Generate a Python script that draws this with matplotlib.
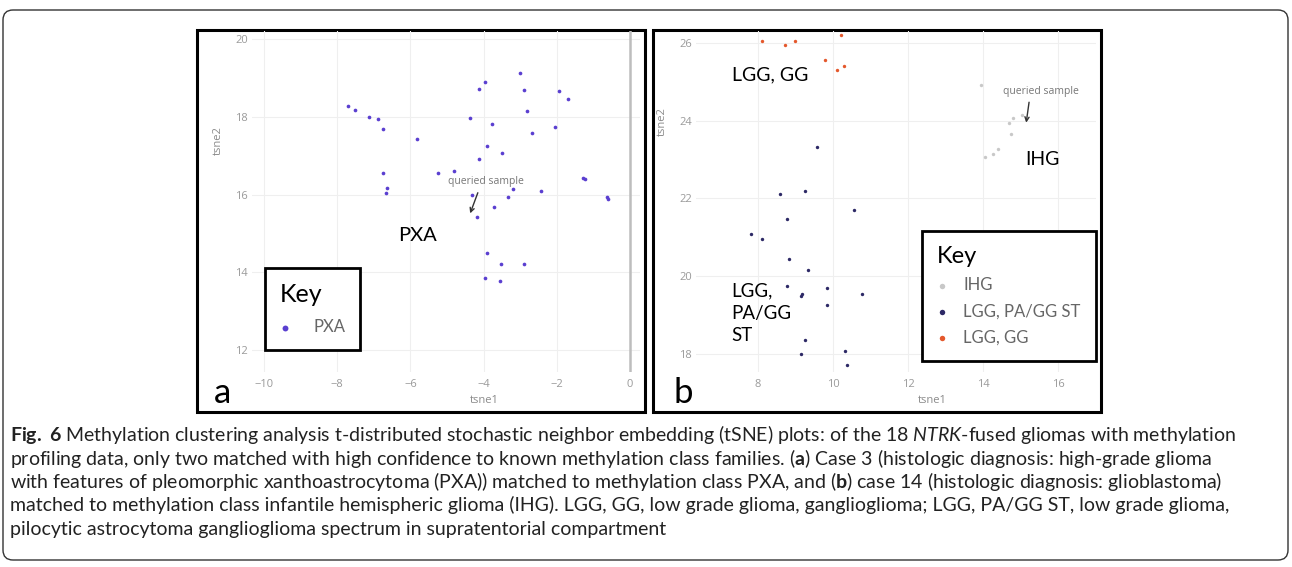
import matplotlib
matplotlib.use("Agg")
import matplotlib.pyplot as plt
from matplotlib.patches import FancyBboxPatch, Rectangle

plt.rcParams['font.family'] = ['Lato', 'DejaVu Sans']
plt.rcParams['mathtext.fontset'] = 'custom'
plt.rcParams['mathtext.rm'] = 'Lato'
plt.rcParams['mathtext.bf'] = 'Lato:bold'
plt.rcParams['mathtext.it'] = 'Lato:italic'

# panel a - PXA cluster
pxa_x = [-7.72, -7.51, -7.13, -6.89, -6.76, -5.81, -6.74, -6.63, -6.68, -5.24,
         -4.80, -4.38, -4.13, -3.96, -3.76, -3.91, -4.13, -3.51, -3.01, -2.90,
         -2.83, -2.67, -2.04, -1.94, -1.71, -1.30, -1.22, -0.62, -0.60, -4.33,
         -3.33, -3.19, -2.44, -3.72, -4.19, -3.92, -3.52, -2.90, -3.96, -3.55]
pxa_y = [18.29, 18.17, 17.99, 17.94, 17.70, 17.43, 16.55, 16.18, 16.05, 16.57,
         16.62, 17.98, 18.73, 18.91, 17.83, 17.26, 16.91, 17.06, 19.12, 18.69,
         18.16, 17.58, 17.74, 18.67, 18.46, 16.42, 16.41, 15.95, 15.88, 15.99,
         15.95, 16.14, 16.09, 15.69, 15.42, 14.49, 14.21, 14.23, 13.86, 13.79]

# panel b - three classes
ihg_x = [13.94, 14.68, 14.79, 15.03, 14.75, 14.05, 14.27, 14.39]
ihg_y = [24.91, 23.93, 24.06, 24.15, 23.66, 23.07, 23.14, 23.26]
pa_x = [9.58, 8.59, 9.25, 10.55, 8.77, 7.81, 8.11, 8.83, 9.33, 8.78,
        9.18, 9.16, 9.83, 10.77, 9.85, 9.26, 9.16, 10.33, 10.38]
pa_y = [23.33, 22.11, 22.18, 21.70, 21.47, 21.08, 20.95, 20.43, 20.16, 19.75,
        19.54, 19.49, 19.69, 19.53, 19.25, 18.36, 18.00, 18.07, 17.71]
gg_x = [8.10, 8.72, 9.00, 10.21, 9.79, 10.12, 10.29]
gg_y = [26.04, 25.95, 26.04, 26.21, 25.56, 25.30, 25.42]

a_xticks = [-10, -8, -6, -4, -2, 0]
a_yticks = [12, 14, 16, 18, 20]
b_xticks = [8, 10, 12, 14, 16]
b_yticks = [18, 20, 22, 24, 26]

caption = [
    r"$\mathbf{Fig.\ 6}$ Methylation clustering analysis t-distributed stochastic neighbor embedding (tSNE) plots: of the 18 $\mathit{NTRK}$-fused gliomas with methylation",
    r"profiling data, only two matched with high confidence to known methylation class families. ($\mathbf{a}$) Case 3 (histologic diagnosis: high-grade glioma",
    r"with features of pleomorphic xanthoastrocytoma (PXA)) matched to methylation class PXA, and ($\mathbf{b}$) case 14 (histologic diagnosis: glioblastoma)",
    r"matched to methylation class infantile hemispheric glioma (IHG). LGG, GG, low grade glioma, ganglioglioma; LGG, PA/GG ST, low grade glioma,",
    r"pilocytic astrocytoma ganglioglioma spectrum in supratentorial compartment",
]

W, H = 1292, 567
fig = plt.figure(figsize=(W / 100, H / 100), dpi=100)

# background layer in pixel units
bg = fig.add_axes([0, 0, 1, 1])
bg.set_xlim(0, W)
bg.set_ylim(H, 0)
bg.axis('off')
bg.add_patch(FancyBboxPatch((3, 10), 1285, 550, boxstyle="round,pad=0,rounding_size=10",
                            fill=False, ec='#333333', lw=1.0))
bg.add_patch(Rectangle((196.5, 29.5), 448, 382.5, fill=False, ec='black', lw=2.2))
bg.add_patch(Rectangle((652.5, 29.5), 448, 382.5, fill=False, ec='black', lw=2.2))
bg.text(214, 403, "a", fontsize=25, ha='left', va='baseline', color='black')
bg.text(674, 403, "b", fontsize=25, ha='left', va='baseline', color='black')

for i, line in enumerate(caption):
    bg.text(10, 441 + i * 23.5, line, fontsize=14, ha='left', va='baseline', color='#222222')


def inner_axes(left, right, top, bottom):
    ax = fig.add_axes([left / W, 1 - bottom / H, (right - left) / W, (bottom - top) / H])
    ax.set_facecolor('none')
    for s in ax.spines.values():
        s.set_visible(False)
    ax.grid(True, color='#efefef', lw=0.8)
    ax.set_axisbelow(True)
    ax.tick_params(length=0, labelsize=8, labelcolor='#9a9a9a', pad=3)
    return ax


def style_ticks(ax):
    for lab in ax.get_xticklabels() + ax.get_yticklabels():
        lab.set_family('Open Sans')
    ax.tick_params(axis='x', pad=5)


def key(ax, anchor, title_size, text_size, **kw):
    leg = ax.legend(title="Key", loc='upper left', bbox_to_anchor=(anchor[0] / W, 1 - anchor[1] / H),
                    bbox_transform=fig.transFigure, borderaxespad=0, fancybox=False,
                    edgecolor='black', framealpha=1, fontsize=text_size,
                    title_fontsize=title_size, alignment='left', **kw)
    leg.get_frame().set_linewidth(2.0)
    for t in leg.get_texts():
        t.set_color('#666666')
    return leg


# ---- panel a ----
axa = inner_axes(252, 640, 31, 372)
axa.set_xlim(-10.33, 0.27)
axa.set_ylim(11.44, 20.21)
axa.set_xticks(a_xticks)
axa.set_yticks(a_yticks)
axa.axvline(0, color='#bdbdbd', lw=1.8, zorder=1)
axa.scatter(pxa_x, pxa_y, s=7, color='#5a3fd0', lw=0, label='PXA', zorder=3)
style_ticks(axa)
axa.text(-3.99, -0.085, "tsne1", transform=axa.get_xaxis_transform(), ha='center', va='center',
         fontsize=8, color='#8a8a8a', family='Open Sans')
axa.text(-0.088, 17.4, "tsne2", transform=axa.get_yaxis_transform(), ha='center', va='center',
         fontsize=8, color='#8a8a8a', family='Open Sans', rotation=90)
axa.annotate("queried sample", xy=(-4.37, 15.52), xytext=(-3.94, 16.33), ha='center', va='center',
             fontsize=7.5, color='#777777', family='Open Sans',
             arrowprops=dict(arrowstyle='->', color='#333333', lw=1.0, shrinkA=2, shrinkB=0,
                             relpos=(0.42, 0.0)))
axa.text(-6.33, 14.96, "PXA", fontsize=14.5, ha='left', va='center', color='black')
key(axa, (265, 267.7), 18, 12, borderpad=0.9, handlelength=0.6, handletextpad=1.4,
    labelspacing=0.8, markerscale=1.6)

# ---- panel b ----
axb = inner_axes(696, 1096, 31, 372)
axb.set_xlim(6.35, 17.01)
axb.set_ylim(17.53, 26.31)
axb.set_xticks(b_xticks)
axb.set_yticks(b_yticks)
axb.scatter(ihg_x, ihg_y, s=6, color='#c8c8c8', lw=0, label='IHG', zorder=3)
axb.scatter(pa_x, pa_y, s=6, color='#2d2966', lw=0, label='LGG, PA/GG ST', zorder=3)
axb.scatter(gg_x, gg_y, s=6, color='#e4582c', lw=0, label='LGG, GG', zorder=3)
style_ticks(axb)
axb.text(12.64, -0.085, "tsne1", transform=axb.get_xaxis_transform(), ha='center', va='center',
         fontsize=8, color='#8a8a8a', family='Open Sans')
axb.text(-0.085, 23.99, "tsne2", transform=axb.get_yaxis_transform(), ha='center', va='center',
         fontsize=8, color='#8a8a8a', family='Open Sans', rotation=90)
axb.annotate("queried sample", xy=(15.15, 23.95), xytext=(15.55, 24.76), ha='center', va='center',
             fontsize=7.5, color='#777777', family='Open Sans',
             arrowprops=dict(arrowstyle='->', color='#333333', lw=1.0, shrinkA=2, shrinkB=0,
                             relpos=(0.35, 0.0)))
axb.text(7.32, 25.18, "LGG, GG", fontsize=14, ha='left', va='center', color='black')
axb.text(15.12, 23.0, "IHG", fontsize=14, ha='left', va='center', color='black')
axb.text(7.30, 19.84, "LGG,\nPA/GG\nST", fontsize=13.5, ha='left', va='top', color='black',
         linespacing=1.4)
key(axb, (921.7, 230.7), 17, 12, borderpad=0.9, handlelength=0.6, handletextpad=1.0,
    labelspacing=0.62, markerscale=1.6)

fig.savefig("out.png", dpi=100)
